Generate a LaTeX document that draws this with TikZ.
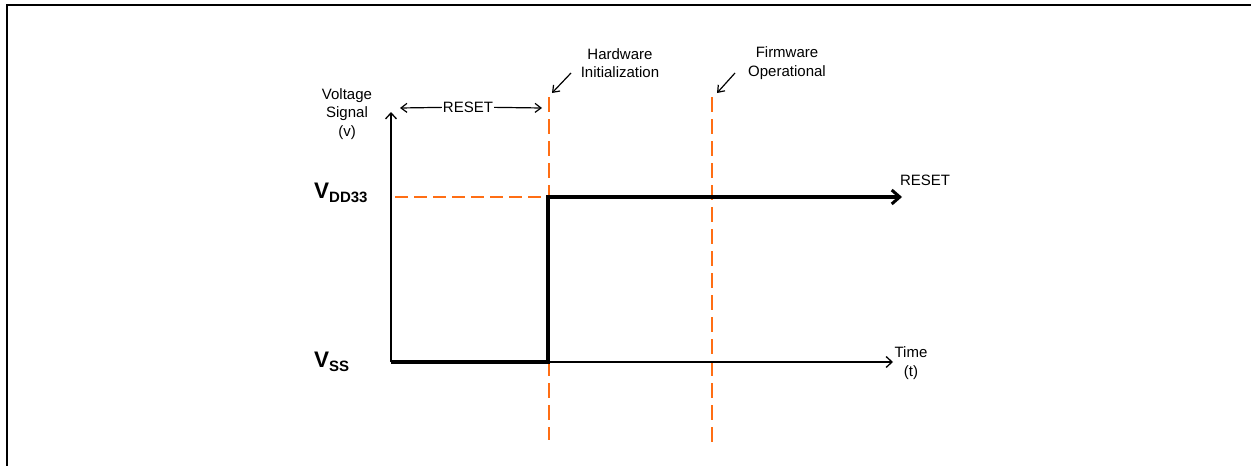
\documentclass[tikz,border=0pt]{standalone}
\usepackage{fontspec}
\setmainfont{Liberation Sans}
\usetikzlibrary{arrows.meta}
\definecolor{orng}{RGB}{255,110,20}
\begin{document}
\begin{tikzpicture}[x=1pt,y=-1pt,
  txt/.style={font=\fontsize{15}{18.5}\selectfont,align=center,inner sep=0pt},
  big/.style={font=\bfseries\fontsize{22.5}{26}\selectfont,inner sep=0pt,anchor=west},
  axis/.style={line width=1.3pt,-{Straight Barb[length=6pt,width=11pt,line width=1.3pt]}},
  sig/.style={line width=4pt},
  orvd/.style={draw=orng,line width=2.2pt,dash pattern=on 15pt off 7pt},
  orhd/.style={draw=orng,line width=1.8pt,dash pattern=on 13pt off 6pt},
  ptr/.style={line width=1.2pt,-{Straight Barb[length=6pt,width=9pt,line width=1.2pt]}},
]
\useasboundingbox (0,0) rectangle (1251,466);
\draw[line width=2.2pt] (7,470) -- (7,5) -- (1255,5);
% coordinates
\coordinate (O) at (391,362);
\coordinate (Ytop) at (391,112);
\coordinate (Xend) at (893,362);
\coordinate (S1) at (548,362);
\coordinate (S2) at (548,197);
\coordinate (S3) at (902,197);
\coordinate (H1) at (549,97);
\coordinate (H2) at (549,440);
\coordinate (F1) at (712,97);
\coordinate (F2) at (712,442);
\coordinate (D1) at (395,197);
\coordinate (HA) at (571,73);
\coordinate (HAt) at (552,93);
\coordinate (FA) at (735,73);
\coordinate (FAt) at (717,93);
\coordinate (R1) at (400,108);
\coordinate (R2) at (542,108);
% orange dashed
\draw[orvd] (H1) -- (H2);
\draw[orvd] (F1) -- (F2);
\draw[orhd] (D1) -- (S2);
% axes
\draw[axis] (O) -- (Ytop);
\draw[axis] (O) -- (Xend);
% signal
\draw[sig,-{Straight Barb[length=8pt,width=14pt,line width=3pt]}] (O) -- (S1) -- (S2) -- (S3);
% labels
\node[txt] (volt) at (347,114) {Voltage\\Signal\\(v)};
\node[txt] (hw) at (620,63) {Hardware\\Initialization};
\node[txt] (fw) at (787,63) {Firmware\\Operational};
\node[txt] (rst) at (925,180) {RESET};
\node[txt] (time) at (911,363) {Time\\(t)};
\node[txt,fill=white,inner xsep=1pt] (rs) at (468,107) {RESET};
\draw[ptr] (rs) -- (R1);
\draw[ptr] (rs) -- (R2);
\draw[ptr] (HA) -- (HAt);
\draw[ptr] (FA) -- (FAt);
\node[big] (vdd) at (314,193) {V\raisebox{-4pt}{\fontsize{15}{18}\selectfont DD33}};
\node[big] (vss) at (314,362) {V\raisebox{-4pt}{\fontsize{15}{18}\selectfont SS}};
\end{tikzpicture}
\end{document}
